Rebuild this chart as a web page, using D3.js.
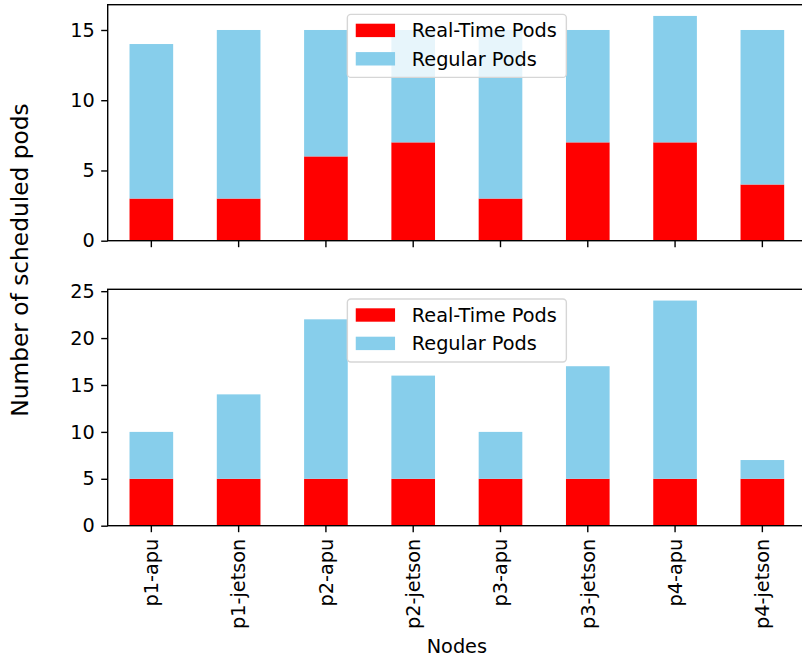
<!DOCTYPE html>
<html>
<head>
<meta charset="utf-8">
<script src="https://cdn.jsdelivr.net/npm/d3@7"></script>
<style>
  body { margin: 0; background: #fff; }
  svg { display: block; font-family: "DejaVu Sans", sans-serif; }
</style>
</head>
<body>
<div id="chart"></div>
<script>
const nodes = ["p1-apu", "p1-jetson", "p2-apu", "p2-jetson", "p3-apu", "p3-jetson", "p4-apu", "p4-jetson"];

// top run
const realTimeTop = [3, 3, 6, 7, 3, 7, 7, 4];
const regularTop = [11, 12, 9, 8, 12, 8, 9, 11];
const ticksTop = [0, 5, 10, 15];

// bottom run
const realTimeBottom = [5, 5, 5, 5, 5, 5, 5, 5];
const regularBottom = [5, 9, 17, 11, 5, 12, 19, 2];
const ticksBottom = [0, 5, 10, 15, 20, 25];

const seriesNames = ["Real-Time Pods", "Regular Pods"];
const colors = ["#ff0000", "#87ceeb"];

const width = 802, height = 661;
const left = 107.7, right = 806;
const fs = 19.3;

const svg = d3.select("#chart")
    .append("svg")
    .attr("width", width)
    .attr("height", height);

const x = d3.scaleBand()
    .domain(nodes)
    .range([left, right])
    .paddingInner(0.5)
    .paddingOuter(0.25);

function drawPanel(top, bottom, real, regular, ticks, showLabels) {
    const total = real.map((d, i) => d + regular[i]);
    const ymax = d3.max(total) * 1.05;
    const y = d3.scaleLinear().domain([0, ymax]).range([bottom, top]);

    const g = svg.append("g");

    // stacked bars
    const rows = nodes.map((n, i) => ({node: n, real: real[i], regular: regular[i]}));
    const stacked = d3.stack().keys(["real", "regular"])(rows);

    stacked.forEach((layer, k) => {
        g.append("g")
            .selectAll("rect")
            .data(layer)
            .enter().append("rect")
            .attr("x", d => x(d.data.node))
            .attr("width", x.bandwidth())
            .attr("y", d => y(d[1]))
            .attr("height", d => y(d[0]) - y(d[1]))
            .attr("fill", colors[k]);
    });

    // y axis
    const yAxis = g.append("g")
        .attr("transform", `translate(${left},0)`)
        .call(d3.axisLeft(y).tickValues(ticks).tickSize(6.5).tickPadding(6.5).tickSizeOuter(0));
    yAxis.select(".domain").remove();
    yAxis.selectAll("line").attr("stroke", "#000").attr("stroke-width", 1.4);
    yAxis.selectAll("text").attr("font-size", fs).attr("fill", "#000")
        .style("font-family", "DejaVu Sans");

    // x axis
    const xAxis = g.append("g")
        .attr("transform", `translate(0,${bottom})`)
        .call(d3.axisBottom(x).tickSize(6.5).tickPadding(6.5).tickSizeOuter(0));
    xAxis.select(".domain").remove();
    xAxis.selectAll("line").attr("stroke", "#000").attr("stroke-width", 1.4);
    if (showLabels) {
        xAxis.selectAll("text")
            .attr("font-size", fs)
            .attr("fill", "#000")
            .style("font-family", "DejaVu Sans")
            .attr("transform", "rotate(-90)")
            .attr("text-anchor", "end")
            .attr("x", -13)
            .attr("y", 0)
            .attr("dy", "0.35em");
    } else {
        xAxis.selectAll("text").remove();
    }

    // spines
    g.append("rect")
        .attr("x", left)
        .attr("y", top)
        .attr("width", right - left)
        .attr("height", bottom - top)
        .attr("fill", "none")
        .attr("stroke", "#000")
        .attr("stroke-width", 1.4);

    // legend
    const lw = 219, lh = 63;
    const lx = (left + right) / 2 - lw / 2;
    const ly = top + 9.7;
    const legend = g.append("g").attr("transform", `translate(${lx},${ly})`);
    legend.append("rect")
        .attr("width", lw)
        .attr("height", lh)
        .attr("rx", 3.5)
        .attr("fill", "rgba(255,255,255,0.8)")
        .attr("stroke", "#d6d6d6")
        .attr("stroke-width", 1.4);
    seriesNames.forEach((name, i) => {
        const row = legend.append("g").attr("transform", `translate(0,${9.3 + i * 28.4})`);
        row.append("rect")
            .attr("x", 8.4)
            .attr("width", 39.3)
            .attr("height", 13.4)
            .attr("fill", colors[i]);
        row.append("text")
            .attr("x", 64.4)
            .attr("y", 6.7)
            .attr("dy", "0.35em")
            .attr("font-size", fs)
            .attr("fill", "#000")
            .text(name);
    });
}

drawPanel(4.7, 240.7, realTimeTop, regularTop, ticksTop, false);
drawPanel(289.3, 525.7, realTimeBottom, regularBottom, ticksBottom, true);

// axis titles
svg.append("text")
    .attr("x", (left + right) / 2)
    .attr("y", 653)
    .attr("text-anchor", "middle")
    .attr("font-size", fs)
    .attr("fill", "#000")
    .text("Nodes");

svg.append("text")
    .attr("transform", "translate(28,260) rotate(-90)")
    .attr("text-anchor", "middle")
    .attr("font-size", 23.3)
    .attr("fill", "#000")
    .text("Number of scheduled pods");
</script>
</body>
</html>
